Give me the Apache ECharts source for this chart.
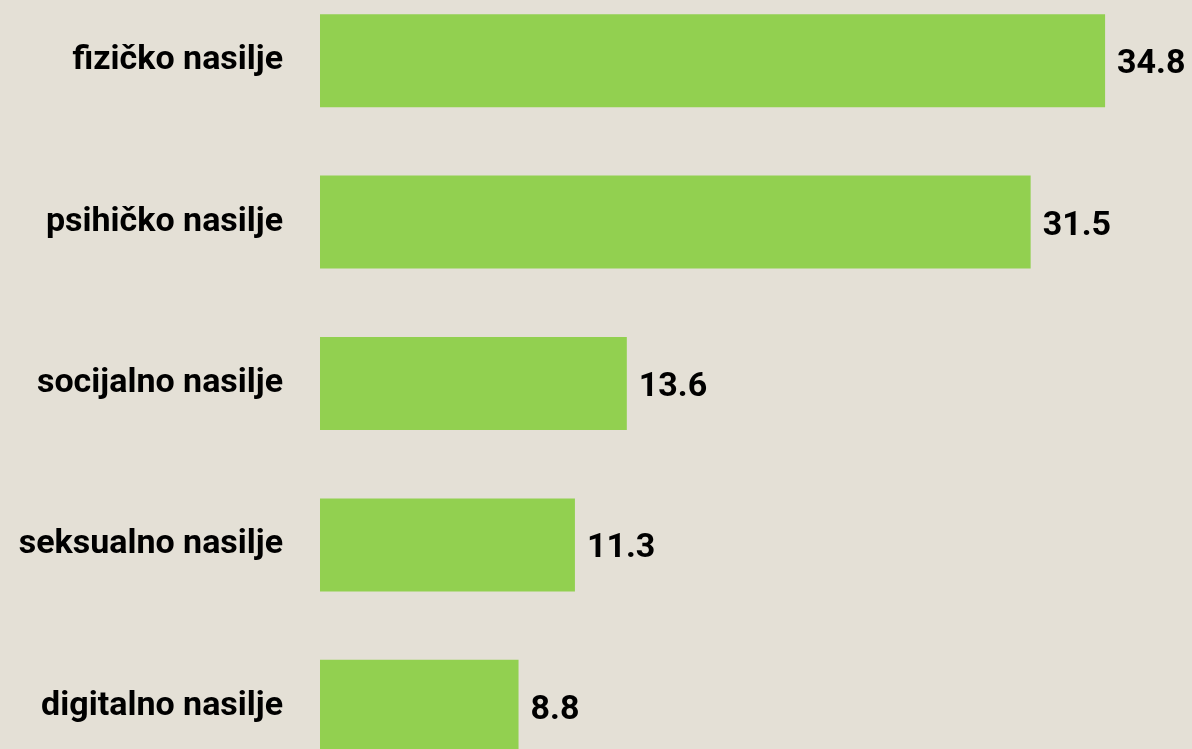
<!DOCTYPE html>
<html>
<head>
<meta charset="utf-8">
<script src="https://cdn.jsdelivr.net/npm/echarts@6/dist/echarts.min.js"></script>
<style>
  html, body { margin: 0; padding: 0; background: #e4e0d6; overflow: hidden; }
  /* chart box is taller than the window so the last bar runs off the bottom */
  #chart { position: absolute; left: 0; top: -20px; width: 1192px; height: 807px; }
</style>
</head>
<body>
<div id="chart"></div>
<script>
// categories top to bottom
const categories = ["fizičko nasilje", "psihičko nasilje", "socijalno nasilje", "seksualno nasilje", "digitalno nasilje"];
const values = [34.8, 31.5, 13.6, 11.3, 8.8];

const chart = echarts.init(document.getElementById("chart"));
chart.setOption({
  backgroundColor: "#e4e0d6",
  animation: false,
  grid: {
    left: 320,
    top: 0,
    height: 807,
    width: 789.6,
    containLabel: false,
  },
  xAxis: {
    type: "value",
    min: 0,
    max: 35,
    show: false,
  },
  yAxis: {
    type: "category",
    inverse: true,
    data: categories,
    axisLine: { show: false },
    axisTick: { show: false },
    axisLabel: {
      color: "#000",
      fontFamily: "Roboto",
      fontWeight: "bold",
      fontSize: 34,
      margin: 37,
      padding: [3, 0, 0, 0],
    },
  },
  series: [
    {
      type: "bar",
      data: values,
      barWidth: 93,
      itemStyle: { color: "#92d050" },
      label: {
        show: true,
        position: "right",
        distance: 12,
        offset: [0, 4],
        color: "#000",
        fontFamily: "Roboto",
        fontWeight: "bold",
        fontSize: 34,
        formatter: (p) => p.value.toFixed(1),
      },
    },
  ],
});
</script>
</body>
</html>
